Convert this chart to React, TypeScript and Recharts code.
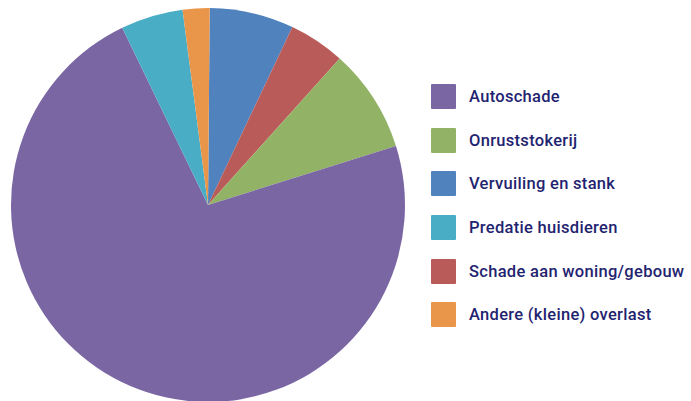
import { PieChart, Pie, Cell, Legend } from "recharts";

// slices in drawing order, clockwise from 12 o'clock
const sliceNames = [
  "Vervuiling en stank",
  "Schade aan woning/gebouw",
  "Onruststokerij",
  "Autoschade",
  "Predatie huisdieren",
  "Andere (kleine) overlast",
];
const sliceValues = [6.9, 4.6, 8.5, 72.6, 5.1, 2.2];

// legend order as printed
const legendNames = [
  "Autoschade",
  "Onruststokerij",
  "Vervuiling en stank",
  "Predatie huisdieren",
  "Schade aan woning/gebouw",
  "Andere (kleine) overlast",
];

const colors: Record<string, string> = {
  Autoschade: "#7a66a3",
  Onruststokerij: "#92b366",
  "Vervuiling en stank": "#5082be",
  "Predatie huisdieren": "#4aadc6",
  "Schade aan woning/gebouw": "#b95b58",
  "Andere (kleine) overlast": "#e9964b",
};

const data = sliceNames.map((name, i) => ({ name, value: sliceValues[i] }));

function LegendBox() {
  return (
    <div>
      {legendNames.map((name) => (
        <div
          key={name}
          style={{ display: "flex", alignItems: "center", height: 43.6 }}
        >
          <div
            style={{
              width: 25,
              height: 25,
              background: colors[name],
              marginRight: 13,
              borderRadius: 1,
            }}
          />
          <span
            style={{
              fontFamily: "Roboto, sans-serif",
              fontSize: 16.5,
              fontWeight: 500,
              color: "#1f2470",
              letterSpacing: 0.3,
            }}
          >
            {name}
          </span>
        </div>
      ))}
    </div>
  );
}

export default function App() {
  return (
    <div style={{ position: "absolute", left: 0, top: 0, background: "#fff" }}>
      <PieChart width={691} height={401} margin={{ top: 0, right: 0, bottom: 0, left: 0 }}>
        <Pie
          data={data}
          dataKey="value"
          nameKey="name"
          cx={208}
          cy={205}
          outerRadius={197}
          startAngle={89.5}
          endAngle={-270.5}
          stroke="none"
          isAnimationActive={false}
        >
          {data.map((d) => (
            <Cell key={d.name} fill={colors[d.name]} />
          ))}
        </Pie>
        <Legend
          content={() => <LegendBox />}
          wrapperStyle={{ left: 431, top: 75, width: 260 }}
        />
      </PieChart>
    </div>
  );
}
